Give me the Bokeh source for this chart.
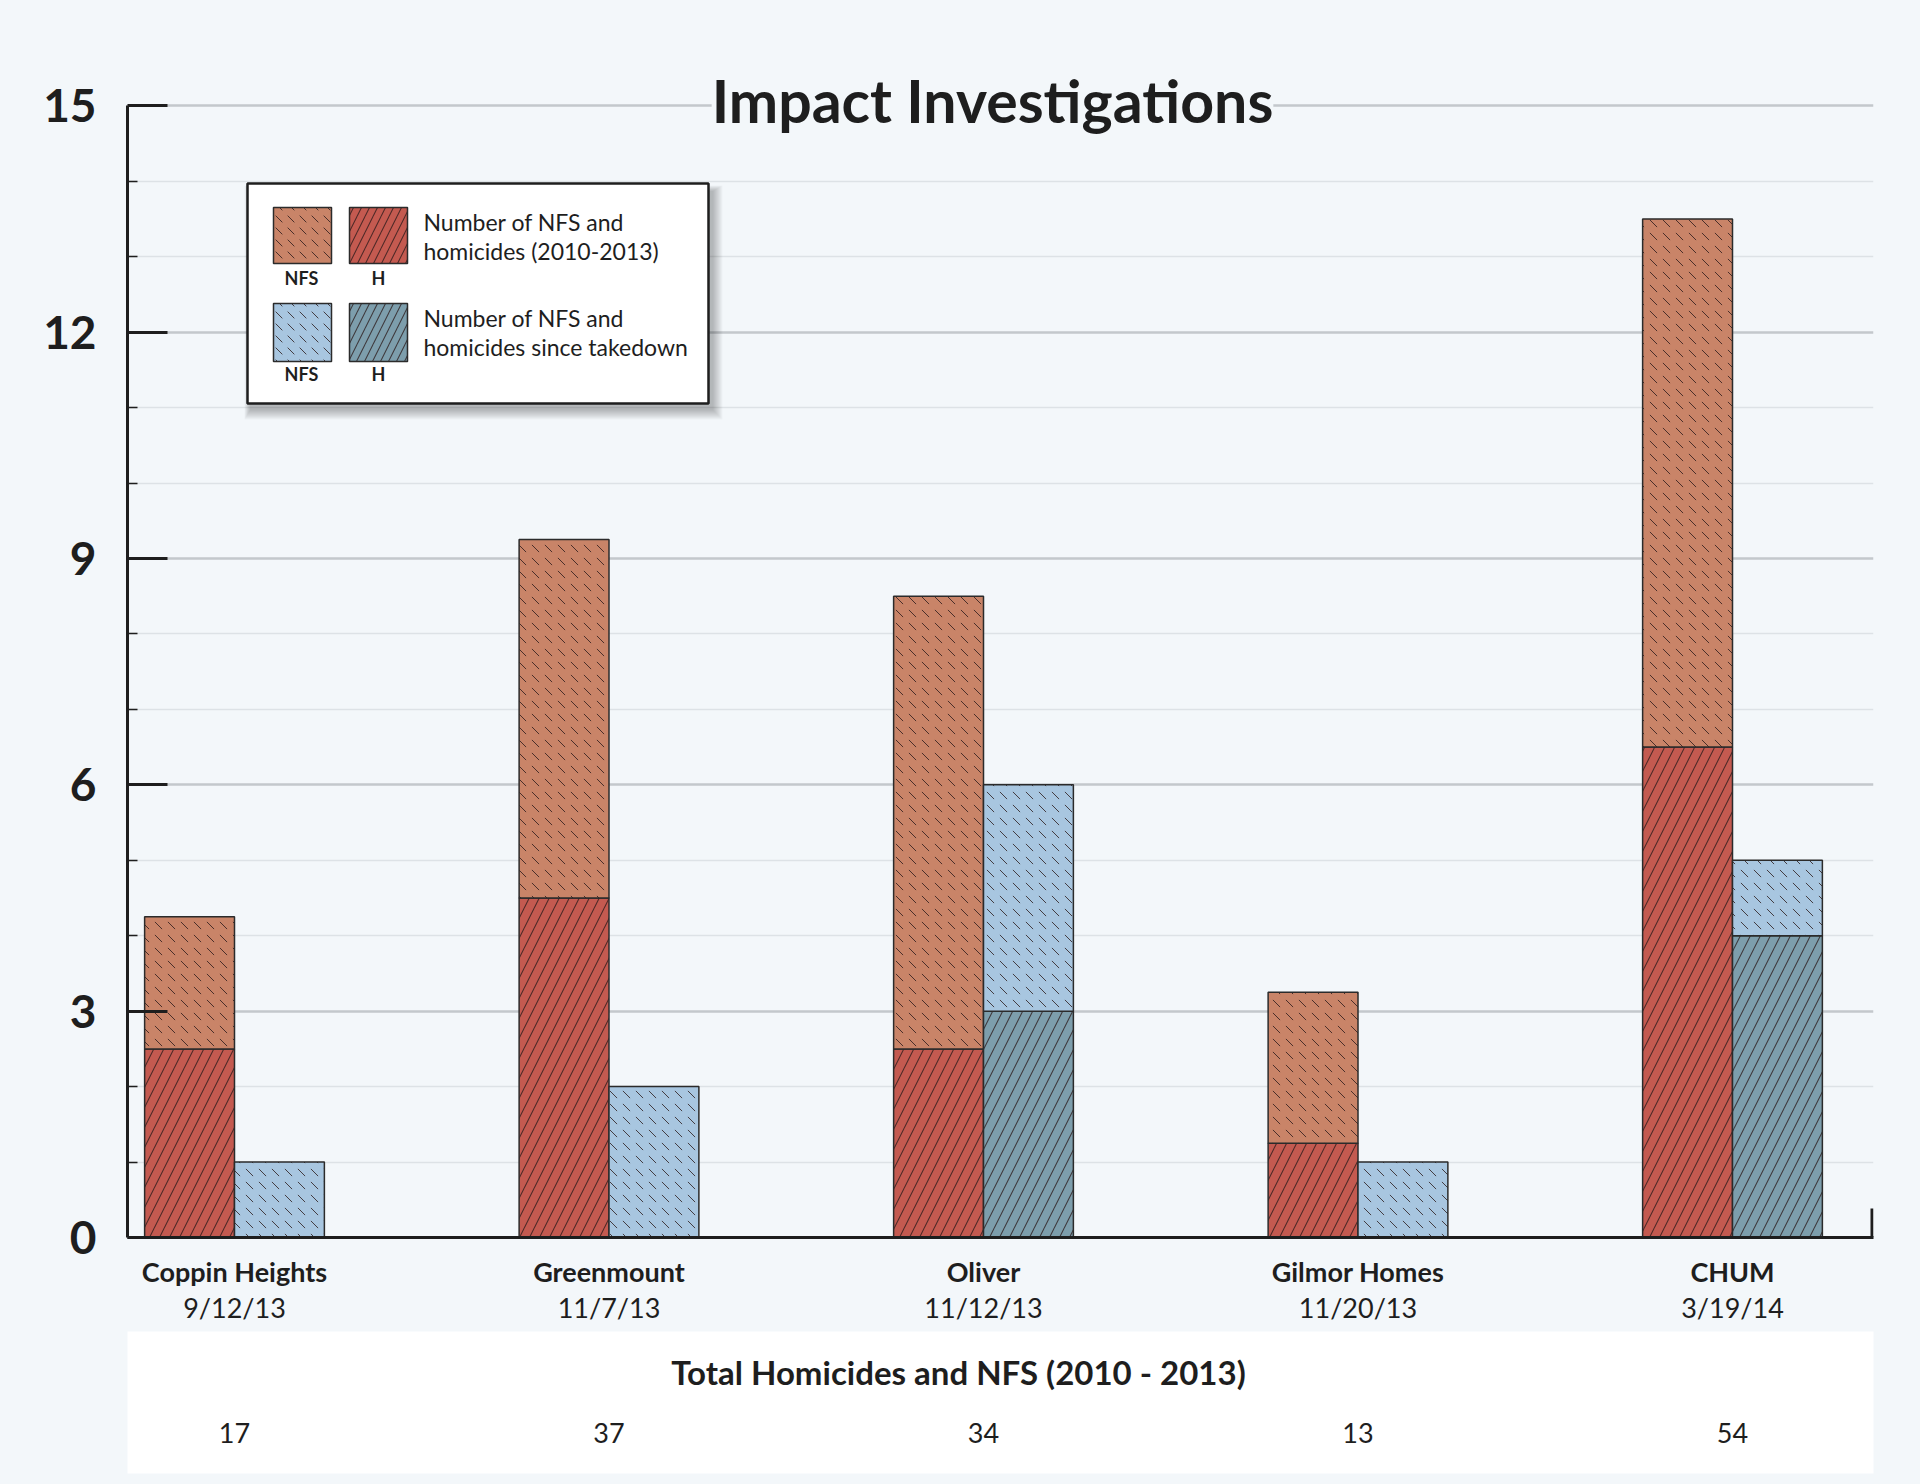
import numpy as np
from bokeh.plotting import figure
from bokeh.models import FixedTicker, LinearAxis, Label, Range1d, ColumnDataSource
from bokeh.layouts import column
from bokeh.embed import file_html
from bokeh.resources import INLINE
from bokeh.core.properties import value

# ---------------- data ----------------
sites = ["Coppin Heights", "Greenmount", "Oliver", "Gilmor Homes", "CHUM"]
dates = ["9/12/13", "11/7/13", "11/12/13", "11/20/13", "3/19/14"]
pre_homicides = [2.5, 4.5, 2.5, 1.25, 6.5]      # H (2010-2013)
pre_nfs = [1.75, 4.75, 6.0, 2.0, 7.0]           # NFS (2010-2013), stacked on H
post_homicides = [0, 0, 3, 0, 4]                # H since takedown
post_nfs = [1, 2, 3, 1, 1]                      # NFS since takedown, stacked on H
totals = [17, 37, 34, 13, 54]
y_major = [0, 3, 6, 9, 12, 15]
y_minor = [1, 2, 4, 5, 7, 8, 10, 11, 13, 14]

# ---------------- style ----------------
BG = "#f3f7fa"
INK = "#1e1e1e"
C_NFS = "#c98468"
C_H = "#c45a50"
C_NFS2 = "#a8c6e0"
C_H2 = "#7d9eac"
OUT = "#2b2b2b"
FONT = "Lato"

NFS_HATCH = dict(hatch_pattern="left_diagonal_dash", hatch_scale=13, hatch_weight=1.0,
                 hatch_color="#2a1a1a", hatch_alpha=0.8)
H_HATCH = dict(hatch_pattern="right_diagonal_line", hatch_scale=20, hatch_weight=1.1,
               hatch_color="#2a1a1a", hatch_alpha=0.75)
NFS_HATCH_S = dict(NFS_HATCH, hatch_scale=12)
H_HATCH_S = dict(H_HATCH, hatch_scale=16)

# layout (page pixels)
FIG_W = 1904
FRAME_L, FRAME_R = 127, 1873
Y0_PX, Y_UNIT = 1237, 75.45
X_UNIT = 374.5
X_START = -(234 - FRAME_L) / X_UNIT
X_END = X_START + (FRAME_R - FRAME_L) / X_UNIT
MAIN_H, MB_T, MB_B = 1323, 29, 94
Y_END = (MAIN_H - MB_T - MB_B) / Y_UNIT
BAR_W = 0.24
TXT_DY = 10   # glyph text baseline correction (px)


def px_x(px):
    return X_START + (px - FRAME_L) / X_UNIT


def px_y(py):
    return (Y0_PX - py) / Y_UNIT


idx = np.arange(len(sites))
pre_h = np.array(pre_homicides, dtype=float)
pre_n = np.array(pre_nfs, dtype=float)
post_h = np.array(post_homicides, dtype=float)
post_n = np.array(post_nfs, dtype=float)

src = ColumnDataSource(dict(
    xl=idx - BAR_W / 2, xr=idx + BAR_W / 2,
    pre_h=pre_h, pre_top=pre_h + pre_n,
    post_h=post_h, post_top=post_h + post_n,
))

p = figure(width=FIG_W, height=MAIN_H, x_range=Range1d(X_START, X_END),
           y_range=Range1d(0, Y_END), output_backend="svg", toolbar_location=None,
           min_border_left=FRAME_L - 8, min_border_right=8 + FIG_W - FRAME_R,
           min_border_top=MB_T, min_border_bottom=MB_B,
           background_fill_color=BG, border_fill_color=BG, outline_line_color=None)

# y axis
yt = FixedTicker(ticks=y_major, minor_ticks=y_minor)
ya = p.yaxis[0]
ya.ticker = yt
ya.bounds = (0, 15)
ya.axis_line_width = 3
ya.axis_line_color = INK
ya.major_tick_in = 40
ya.major_tick_out = 0
ya.major_tick_line_width = 3
ya.major_tick_line_color = INK
ya.minor_tick_in = 10
ya.minor_tick_out = 0
ya.minor_tick_line_width = 1.5
ya.minor_tick_line_color = INK
ya.major_label_standoff = 31
ya.major_label_text_font = FONT
ya.major_label_text_font_style = "bold"
ya.major_label_text_font_size = "46px"
ya.major_label_text_color = INK

p.ygrid.ticker = yt
p.ygrid.grid_line_color = "#c3c8cc"
p.ygrid.grid_line_width = 2.5
p.ygrid.minor_grid_line_color = "#dde2e6"
p.ygrid.minor_grid_line_width = 1.5
p.xgrid.visible = False

# x axis (names, bold) + second axis (dates)
xt = FixedTicker(ticks=list(idx), minor_ticks=[])
xa = p.xaxis[0]
xa.ticker = xt
xa.major_label_overrides = {int(i): s for i, s in zip(idx, sites)}
xa.axis_line_width = 3
xa.axis_line_color = INK
xa.major_tick_in = 0
xa.major_tick_out = 0
xa.major_tick_line_color = None
xa.minor_tick_line_color = None
xa.major_label_standoff = 17
xa.major_label_text_font = FONT
xa.major_label_text_font_style = "bold"
xa.major_label_text_font_size = "27px"
xa.major_label_text_color = INK

xa2 = LinearAxis(ticker=xt, major_label_overrides={int(i): d for i, d in zip(idx, dates)},
                 axis_line_color=None, major_tick_line_color=None, minor_tick_line_color=None,
                 major_tick_in=0, major_tick_out=0, major_label_standoff=0,
                 major_label_text_font=FONT, major_label_text_font_size="27px",
                 major_label_text_color=INK)
p.add_layout(xa2, "below")

# bars
p.vbar(x="xl", width=BAR_W, bottom=0, top="pre_h", source=src, fill_color=C_H,
       line_color=OUT, line_width=1.5, **H_HATCH)
p.vbar(x="xl", width=BAR_W, bottom="pre_h", top="pre_top", source=src, fill_color=C_NFS,
       line_color=OUT, line_width=1.5, **NFS_HATCH)
p.vbar(x="xr", width=BAR_W, bottom=0, top="post_h", source=src, fill_color=C_H2,
       line_color=OUT, line_width=1.5, **H_HATCH)
p.vbar(x="xr", width=BAR_W, bottom="post_h", top="post_top", source=src, fill_color=C_NFS2,
       line_color=OUT, line_width=1.5, **NFS_HATCH)

# right end tick of the x axis
p.segment(x0=[X_END - 1.5 / X_UNIT], y0=[0], x1=[X_END - 1.5 / X_UNIT], y1=[px_y(1208)],
          line_width=3, line_color=INK)

# title
p.add_layout(Label(x=px_x(992), y=px_y(100), text="Impact Investigations",
                   text_align="center", text_baseline="alphabetic", text_font=FONT,
                   text_font_style="bold", text_font_size="59px", text_color=INK,
                   background_fill_color=BG, background_fill_alpha=1.0))

# legend (drawn by hand)
L, R, T, B = 247, 708, 183, 403
for k in range(1, 11):
    p.quad(left=[px_x(L + 3 - k * 0.6)], right=[px_x(R + 4 + k)], top=[px_y(T + 8 - k * 0.6)],
           bottom=[px_y(B + 6 + k)], fill_color="black", fill_alpha=0.028, line_color=None)
p.quad(left=[px_x(L)], right=[px_x(R)], top=[px_y(T)], bottom=[px_y(B)],
       fill_color="white", line_color=INK, line_width=2.5)

rows = [(207, 263, C_NFS, C_H, 283, ["Number of NFS and", "homicides (2010-2013)"], [231, 260]),
        (303, 361, C_NFS2, C_H2, 379, ["Number of NFS and", "homicides since takedown"], [327, 356])]
for top_px, bot_px, cn, ch, lab_b, lines, bases in rows:
    p.quad(left=[px_x(273)], right=[px_x(331)], top=[px_y(top_px)], bottom=[px_y(bot_px)],
           fill_color=cn, line_color=OUT, line_width=1.5, **NFS_HATCH_S)
    p.quad(left=[px_x(349)], right=[px_x(407)], top=[px_y(top_px)], bottom=[px_y(bot_px)],
           fill_color=ch, line_color=OUT, line_width=1.5, **H_HATCH_S)
    p.text(x=[px_x(301), px_x(378)], y=[px_y(lab_b - 6)] * 2, text=["NFS", "H"],
           text_align="center", text_baseline="alphabetic", text_font=value(FONT),
           text_font_style="bold", text_font_size="18px", text_color=INK)
    p.text(x=[px_x(423)] * 2, y=[px_y(b - TXT_DY) for b in bases], text=lines,
           text_align="left", text_baseline="alphabetic", text_font=value(FONT),
           text_font_size="23px", text_color=INK)

# ---------------- totals table ----------------
TAB_TOP, TAB_BOT = 1331, 1473
TAB_H = 145


def ty(py):
    return (TAB_BOT - py) / (TAB_BOT - TAB_TOP)


t = figure(width=FIG_W, height=TAB_H, x_range=p.x_range, y_range=Range1d(0, 1),
           output_backend="svg", toolbar_location=None,
           min_border_left=FRAME_L - 8, min_border_right=8 + FIG_W - FRAME_R,
           min_border_top=0, min_border_bottom=TAB_H - (TAB_BOT - TAB_TOP),
           background_fill_color="white", border_fill_color=BG, outline_line_color=None,
           x_axis_location=None, y_axis_location=None)
t.grid.visible = False
t.text(x=[px_x(958)], y=[ty(1384 - 13)], text=["Total Homicides and NFS (2010 - 2013)"],
       text_align="center", text_baseline="alphabetic", text_font=value(FONT),
       text_font_style="bold", text_font_size="33px", text_color=INK)
t.text(x=idx, y=[ty(1442 - 10)] * len(idx), text=[str(v) for v in totals],
       text_align="center", text_baseline="alphabetic", text_font=value(FONT),
       text_font_size="27px", text_color=INK)

layout = column(p, t, spacing=0)
html = file_html(layout, INLINE)
css = ("<style>html,body{margin:0 !important;padding:0 !important;background:%s !important;}"
       "body{padding:8px !important;}</style>" % BG)
html = html.replace("</head>", css + "</head>", 1)
open("out.html", "w").write(html)
